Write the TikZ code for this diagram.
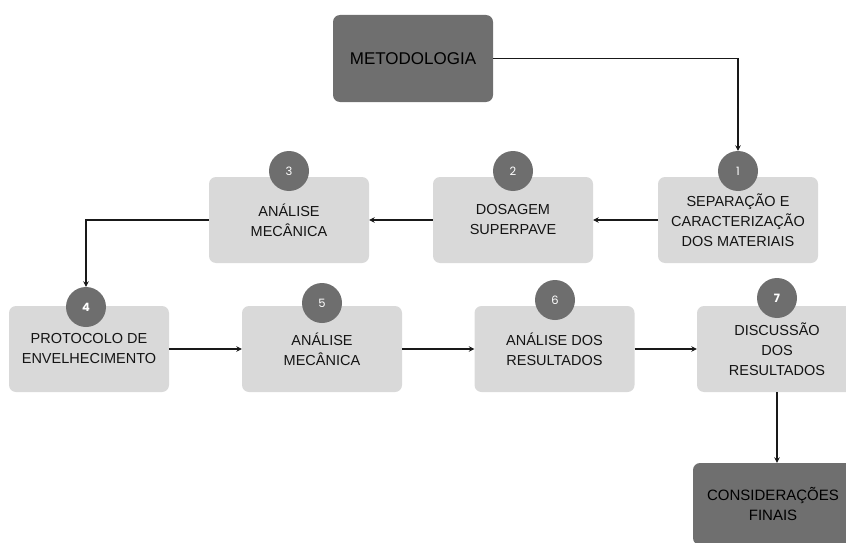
\documentclass[tikz,border=0pt]{standalone}
\usepackage{fontspec}
\setmainfont{Liberation Sans}
\newfontfamily\numfont{Poppins}
\usetikzlibrary{arrows.meta}
\definecolor{boxgray}{HTML}{D9D9D9}
\definecolor{darkgray}{HTML}{6F6F6F}
\definecolor{circgray}{HTML}{6E6E6E}
\definecolor{txt}{HTML}{141414}
\tikzset{
  stepbox/.style={rectangle, rounded corners=7pt, fill=boxgray, minimum width=160pt, minimum height=86pt, align=center, text=txt, font=\fontsize{14.5}{20}\selectfont, inner sep=0pt},
  darkbox/.style={rectangle, rounded corners=7pt, fill=darkgray, minimum width=160pt, minimum height=87pt, align=center, text=black, font=\fontsize{15}{20}\selectfont, inner sep=0pt},
  numcirc/.style={circle, fill=circgray, minimum size=40pt, inner sep=0pt, text=white, font=\numfont\fontsize{11.5}{12}\selectfont},
  conn/.style={line width=1.7pt, draw=black!90, -{Stealth[length=5.5pt,width=5.5pt]}}
}
\begin{document}
\begin{tikzpicture}[x=1pt,y=-1pt]
\useasboundingbox (0,0) rectangle (846,543);
\clip (0,0) rectangle (846,543);
% boxes
\node[darkbox, font=\fontsize{17}{20}\selectfont] (met) at (413,58.5) {METODOLOGIA};
\node[stepbox] (b1) at (738,220) {SEPARAÇÃO E\\CARACTERIZAÇÃO\\DOS MATERIAIS};
\node[stepbox] (b2) at (513,220) {DOSAGEM\\SUPERPAVE};
\node[stepbox] (b3) at (289,220) {ANÁLISE\\MECÂNICA};
\node[stepbox] (b4) at (89,349) {PROTOCOLO DE\\ENVELHECIMENTO};
\node[stepbox] (b5) at (322,349) {ANÁLISE\\MECÂNICA};
\node[stepbox] (b6) at (554.5,349) {ANÁLISE DOS\\RESULTADOS};
\node[stepbox] (b7) at (777,349) {DISCUSSÃO\\DOS\\RESULTADOS};
\node[darkbox, minimum height=82pt] (fin) at (773,504) {CONSIDERAÇÕES\\FINAIS};
% circles
\node[numcirc] (c1) at (738,171) {1};
\node[numcirc] (c2) at (513,171) {2};
\node[numcirc] (c3) at (289,171) {3};
\node[numcirc] (c4) at (86,307) {\bfseries 4};
\node[numcirc] (c5) at (322,303) {5};
\node[numcirc] (c6) at (555,300) {6};
\node[numcirc] (c7) at (777,298) {\bfseries 7};
% connectors
\draw[conn] (met.east) -| (c1.north);
\draw[conn] (b1.west) -- (b2.east);
\draw[conn] (b2.west) -- (b3.east);
\draw[conn] (b3.west) -| (c4.north);
\draw[conn] (b4.east) -- (b5.west);
\draw[conn] (b5.east) -- (b6.west);
\draw[conn] (b6.east) -- (b7.west);
\draw[conn] (b7.south) -- (fin.north -| b7.south);
\end{tikzpicture}
\end{document}
